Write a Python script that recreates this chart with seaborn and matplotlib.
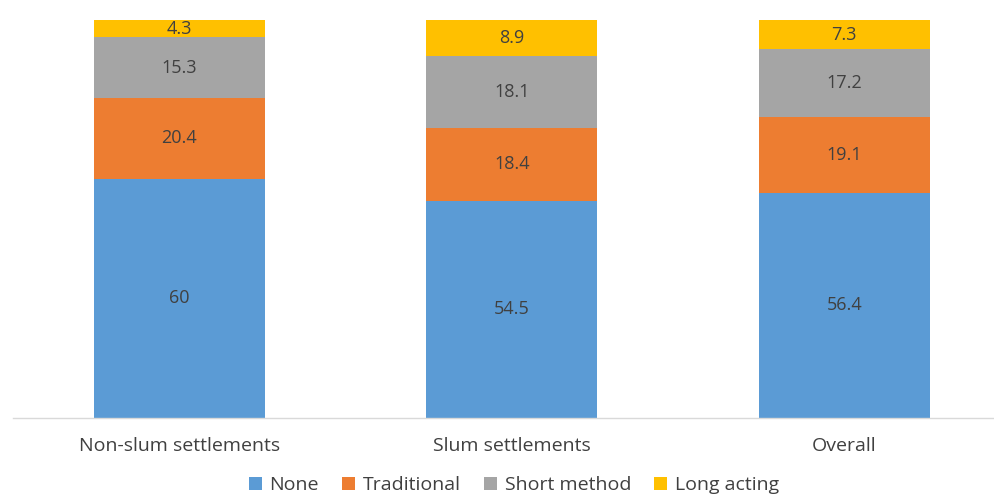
import numpy as np
import pandas as pd
import matplotlib
matplotlib.use("Agg")
import matplotlib.pyplot as plt
import seaborn as sns
from matplotlib.patches import Patch

categories = ["Non-slum settlements", "Slum settlements", "Overall"]
series_names = ["None", "Traditional", "Short method", "Long acting"]
none_vals = [60, 54.5, 56.4]
traditional_vals = [20.4, 18.4, 19.1]
short_vals = [15.3, 18.1, 17.2]
long_vals = [4.3, 8.9, 7.3]
colors = ["#5B9BD5", "#ED7D31", "#A5A5A5", "#FFC000"]
label_strs = [["60", "54.5", "56.4"], ["20.4", "18.4", "19.1"],
              ["15.3", "18.1", "17.2"], ["4.3", "8.9", "7.3"]]

sns.set_theme(style="white")
plt.rcParams["font.family"] = ["Open Sans", "DejaVu Sans"]
txt = "#404040"

W, H = 995, 494
fig = plt.figure(figsize=(W / 100, H / 100), dpi=100)
ax = fig.add_axes([13 / W, (H - 417.5) / H, (W - 13) / W, 397.5 / H])

series = [none_vals, traditional_vals, short_vals, long_vals]
cum = np.cumsum(np.array(series), axis=0)

# draw cumulative totals from top down so lower series overlay
for i in range(len(series) - 1, -1, -1):
    df = pd.DataFrame({"cat": categories, "val": cum[i]})
    sns.barplot(data=df, x="cat", y="val", color=colors[i], saturation=1,
                width=0.514, linewidth=0, ax=ax, order=categories)

for i in range(len(series)):
    for j in range(len(categories)):
        bottom = cum[i][j] - series[i][j]
        ax.text(j, bottom + series[i][j] / 2, label_strs[i][j], ha="center",
                va="center", color=txt, fontsize=13)

ax.set_xlim(-0.5, -0.5 + (W - 13) / 332.5)
ax.set_ylim(0, 100)
ax.set_xlabel("")
ax.set_ylabel("")
ax.set_yticks([])
for s in ["top", "left", "right"]:
    ax.spines[s].set_visible(False)
ax.spines["bottom"].set_color("#D9D9D9")
ax.spines["bottom"].set_linewidth(1)
ax.tick_params(axis="x", length=0, pad=14, labelsize=14, labelcolor=txt)

handles = [Patch(facecolor=c, edgecolor="none") for c in colors]
fig.legend(handles, series_names, loc="center", bbox_to_anchor=(514 / W, 1 - 485 / H),
           ncol=4, frameon=False, fontsize=14, labelcolor=txt,
           handlelength=0.65, handleheight=0.65, handletextpad=0.4, columnspacing=1.2)

fig.savefig("out.png", dpi=100)
